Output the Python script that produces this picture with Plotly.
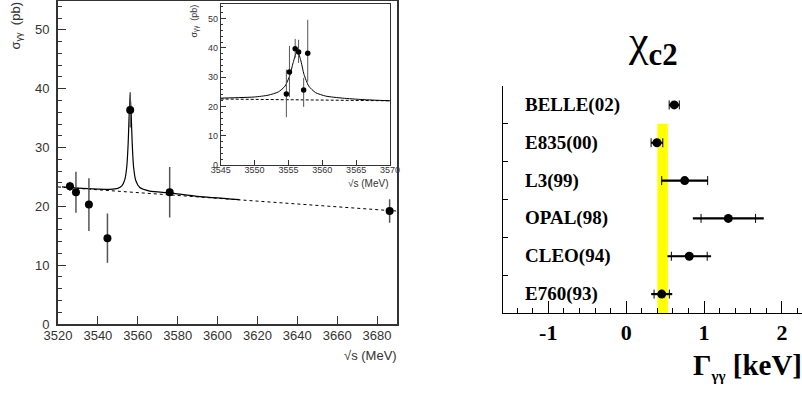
import plotly.graph_objects as go

# ---------------- data: main (left) plot ----------------
main_x = [3526, 3529, 3535.5, 3544.8, 3556.2, 3576, 3686.3]
main_y = [23.4, 22.4, 20.3, 14.6, 36.4, 22.4, 19.2]
main_err = [0.8, 3.5, 4.5, 4.2, 3.0, 4.3, 2.0]

# fitted curve (resonance + background)
fit_x = [3522, 3530, 3540, 3546, 3550, 3552, 3553.5, 3554.5, 3555.2, 3555.7,
         3556.2, 3556.7, 3557.2, 3557.9, 3559, 3561, 3566, 3576, 3590, 3611]
fit_y = [23.3, 23.1, 22.93, 22.89, 23.05, 23.47, 24.55, 26.77, 30.8, 35.7,
         39.0, 35.7, 30.8, 26.7, 24.4, 23.2, 22.6, 22.3, 21.7, 21.15]
bg_x = [3520, 3690]
bg_y = [23.3, 19.2]

# ---------------- data: inset ----------------
ins_x = [3554.7, 3555.15, 3556.0, 3556.5, 3557.25, 3557.85]
ins_y = [24.3, 31.8, 39.7, 38.6, 25.7, 38.2]
ins_err_plus = [8.3, 8.9, 3.4, 4.2, 4.1, 11.4]
ins_err_minus = [7.9, 8.5, 3.1, 3.7, 5.8, 9.7]
ins_fit_x = [3545, 3548, 3550, 3552, 3553.5, 3554.5, 3555.2, 3555.7, 3556.3,
             3556.8, 3557.3, 3558, 3559, 3560.5, 3563, 3566, 3570]
ins_fit_y = [22.9, 23.1, 23.3, 23.9, 25.0, 27.0, 30.6, 35.0, 39.2,
             36.0, 31.0, 27.0, 24.8, 23.6, 22.9, 22.4, 22.0]
ins_bg_x = [3545, 3570]
ins_bg_y = [22.6, 22.0]

# ---------------- data: right panel ----------------
experiments = ["BELLE(02)", "E835(00)", "L3(99)", "OPAL(98)", "CLEO(94)", "E760(93)"]
gamma = [0.617, 0.395, 0.751, 1.311, 0.81, 0.456]
err_stat = [0.065, 0.075, 0.295, 0.35, 0.23, 0.098]
err_total = [0.065, 0.075, 0.295, 0.455, 0.28, 0.135]
band_lo, band_hi = 0.40, 0.535
xt_vals = [-1, 0, 1, 2]
xt_text = ["-1", "0", "1", "2"]

W, H = 802, 394
def px(v): return v / W
def py(v): return 1 - v / H

SANS = "Liberation Sans"
SERIF = "Liberation Serif"
TXT = "#333333"

fig = go.Figure()

# main plot
fig.add_trace(go.Scatter(x=bg_x, y=bg_y, mode="lines", xaxis="x", yaxis="y",
                         line=dict(color="black", width=1, dash="3px,3px"), showlegend=False))
fig.add_trace(go.Scatter(x=fit_x, y=fit_y, mode="lines", xaxis="x", yaxis="y",
                         line=dict(color="black", width=1.2, shape="spline", smoothing=0.6),
                         showlegend=False))
fig.add_trace(go.Scatter(x=main_x, y=main_y, mode="markers", xaxis="x", yaxis="y",
                         marker=dict(color="black", size=8),
                         error_y=dict(type="data", array=main_err, color="#555555",
                                      thickness=1.5, width=0),
                         showlegend=False))

# inset
fig.add_trace(go.Scatter(x=ins_bg_x, y=ins_bg_y, mode="lines", xaxis="x2", yaxis="y2",
                         line=dict(color="black", width=1, dash="3px,2px"), showlegend=False))
fig.add_trace(go.Scatter(x=ins_fit_x, y=ins_fit_y, mode="lines", xaxis="x2", yaxis="y2",
                         line=dict(color="black", width=1, shape="spline", smoothing=0.6),
                         showlegend=False))
fig.add_trace(go.Scatter(x=ins_x, y=ins_y, mode="markers", xaxis="x2", yaxis="y2",
                         marker=dict(color="black", size=5.5),
                         error_y=dict(type="data", symmetric=False, array=ins_err_plus,
                                      arrayminus=ins_err_minus, color="#555555",
                                      thickness=1, width=0),
                         showlegend=False))

# right panel
n = len(experiments)
ypos = [n - 0.5 - i for i in range(n)]
fig.add_trace(go.Scatter(x=gamma, y=ypos, mode="markers", xaxis="x3", yaxis="y3",
                         marker=dict(color="black", size=1),
                         error_x=dict(type="data", array=err_total, color="black",
                                      thickness=2.2, width=0),
                         showlegend=False))
fig.add_trace(go.Scatter(x=gamma, y=ypos, mode="markers", xaxis="x3", yaxis="y3",
                         marker=dict(color="black", size=9),
                         error_x=dict(type="data", array=err_stat, color="black",
                                      thickness=1, width=4.5),
                         showlegend=False))

for name, yv in zip(experiments, ypos):
    fig.add_annotation(x=-1.33, y=yv, xref="x3", yref="y3", text=f"<b>{name}</b>",
                       showarrow=False, xanchor="left", yanchor="middle",
                       font=dict(family=SERIF, size=19, color="black"))

fig.add_shape(type="rect", xref="x3", yref="y3", x0=band_lo, x1=band_hi, y0=0, y1=5,
              fillcolor="#ffff00", line=dict(width=0), layer="below")

# texts
fig.add_annotation(x=px(16), y=py(1), xref="paper", yref="paper",
                   text="σ<sub>γγ</sub>  (pb)", textangle=-90, showarrow=False,
                   xanchor="center", yanchor="top", font=dict(family=SANS, size=13, color=TXT))
fig.add_annotation(x=px(399), y=py(355), xref="paper", yref="paper",
                   text="√s (MeV)", showarrow=False, xanchor="right", yanchor="middle",
                   font=dict(family=SANS, size=13, color=TXT))
fig.add_annotation(x=px(195), y=py(3), xref="paper", yref="paper",
                   text="σ<sub>γγ</sub>  (pb)", textangle=-90, showarrow=False,
                   xanchor="center", yanchor="top", font=dict(family=SANS, size=9, color=TXT))
fig.add_annotation(x=px(391), y=py(183), xref="paper", yref="paper",
                   text="√s (MeV)", showarrow=False, xanchor="right", yanchor="middle",
                   font=dict(family=SANS, size=10, color=TXT))
fig.add_annotation(x=px(653), y=py(44), xref="paper", yref="paper",
                   text="χ<sub><b>c2</b></sub>", showarrow=False, xanchor="center",
                   yanchor="middle", font=dict(family=SERIF, size=44, color="black"))
fig.add_annotation(x=px(804), y=py(366), xref="paper", yref="paper",
                   text="<b>Γ<sub><span style='font-size:15px'>γγ</span></sub> [keV]</b>",
                   showarrow=False, xanchor="right",
                   yanchor="middle", font=dict(family=SERIF, size=29, color="black"))

common_left = dict(showgrid=False, zeroline=False, showline=True, mirror=True,
                   ticks="inside", tickcolor=TXT, linecolor=TXT, automargin=False)

fig.update_layout(
    width=W, height=H, margin=dict(l=0, r=0, t=0, b=0, autoexpand=False),
    paper_bgcolor="white", plot_bgcolor="rgba(0,0,0,0)",
    xaxis=dict(domain=[px(58), px(397)], range=[3520, 3690], anchor="y",
               tickvals=list(range(3520, 3690, 20)), ticklen=8, linewidth=2,
               tickfont=dict(family=SANS, size=13, color=TXT), ticklabelstandoff=-2,
               **common_left),
    yaxis=dict(domain=[py(324), py(0.5)], range=[0, 55], anchor="x",
               tickvals=list(range(0, 60, 10)), ticklen=8, linewidth=2,
               minor=dict(dtick=2, ticklen=4, ticks="inside", tickcolor=TXT),
               tickfont=dict(family=SANS, size=13, color=TXT), ticklabelstandoff=4,
               **common_left),
    xaxis2=dict(domain=[px(220.7), px(390)], range=[3545, 3570], anchor="y2",
                tickvals=list(range(3545, 3575, 5)), ticklen=5, linewidth=1,
                tickfont=dict(family=SANS, size=9, color=TXT), ticklabelstandoff=-4,
                **common_left),
    yaxis2=dict(domain=[py(165.3), py(4)], range=[0, 55], anchor="x2",
                tickvals=list(range(0, 60, 10)), ticklen=5, linewidth=1,
                minor=dict(dtick=2, ticklen=2.5, ticks="inside", tickcolor=TXT),
                tickfont=dict(family=SANS, size=9, color=TXT), ticklabelstandoff=0,
                **common_left),
    xaxis3=dict(domain=[px(502.7), 1.0], range=[-1.585, 2.257], anchor="y3",
                tickvals=xt_vals, ticktext=[f"<b>{t}</b>" for t in xt_text],
                ticks="inside", ticklen=12, tickcolor="black",
                minor=dict(dtick=0.2, tick0=0, ticklen=5, ticks="inside", tickcolor="black"),
                showline=True, linecolor="black", linewidth=1, mirror=False,
                showgrid=False, zeroline=False, automargin=False,
                tickfont=dict(family=SERIF, size=22, color="black")),
    yaxis3=dict(domain=[py(313), py(86)], range=[0, 6], anchor="x3",
                tickvals=list(range(0, 7)), showticklabels=False,
                ticks="inside", ticklen=5, tickcolor="black",
                showline=True, linecolor="black", linewidth=1, mirror=False,
                showgrid=False, zeroline=False, automargin=False),
)

fig.write_html("out.html", config={"displayModeBar": False},
               post_script="document.body.style.margin='0px';")
